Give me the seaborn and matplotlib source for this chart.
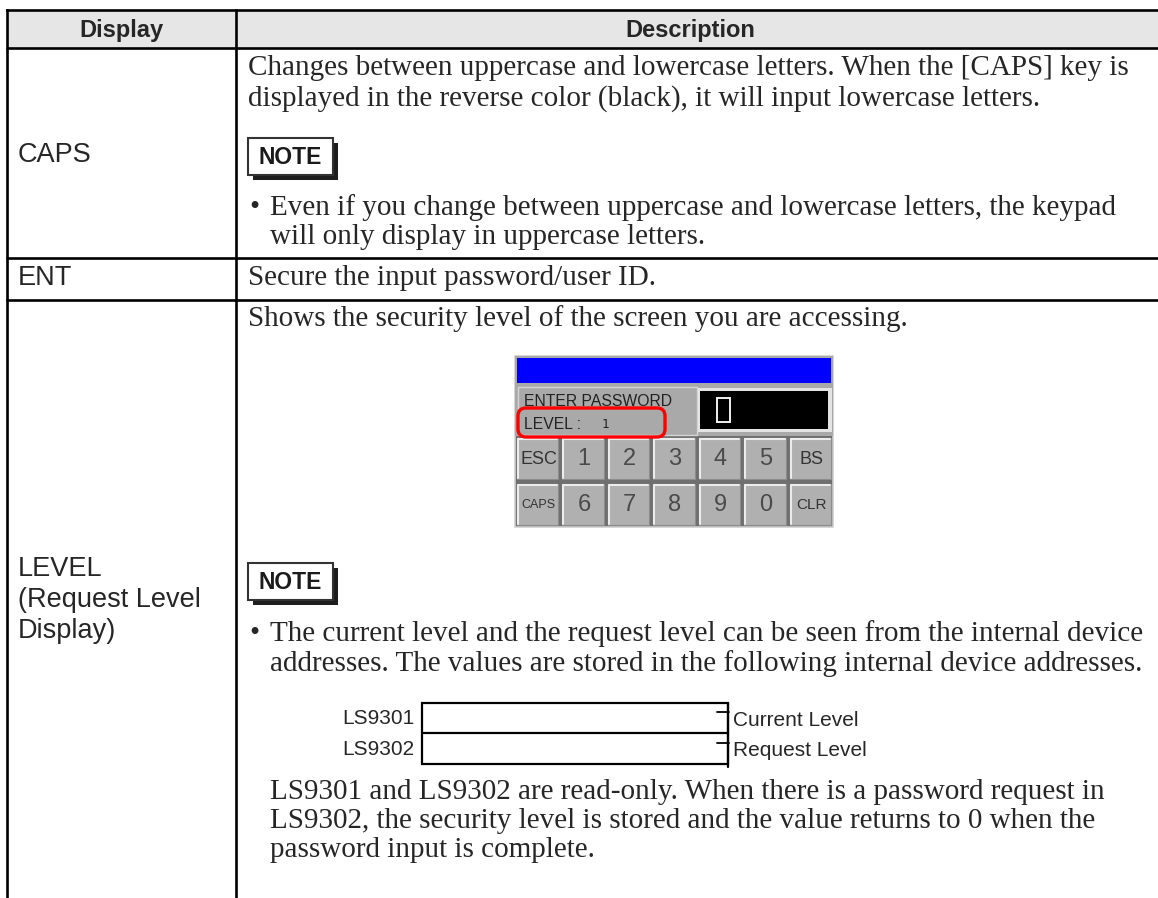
import matplotlib
matplotlib.use("Agg")
import matplotlib.pyplot as plt
from matplotlib.patches import Rectangle, FancyBboxPatch
import seaborn as sns

# ---------------- data (text content) ----------------
header_labels = ["Display", "Description"]
display_labels = ["CAPS", "ENT", ["LEVEL", "(Request Level", "Display)"]]
caps_desc = ["Changes between uppercase and lowercase letters. When the [CAPS] key is",
             "displayed in the reverse color (black), it will input lowercase letters."]
caps_note = ["Even if you change between uppercase and lowercase letters, the keypad",
             "will only display in uppercase letters."]
ent_desc = ["Secure the input password/user ID."]
level_desc = ["Shows the security level of the screen you are accessing."]
level_note = ["The current level and the request level can be seen from the internal device",
              "addresses. The values are stored in the following internal device addresses."]
address_labels = ["LS9301", "LS9302"]
address_meanings = ["Current Level", "Request Level"]
level_para = ["LS9301 and LS9302 are read-only. When there is a password request in",
              "LS9302, the security level is stored and the value returns to 0 when the",
              "password input is complete."]
keypad_title = ["ENTER PASSWORD", "LEVEL :", "1"]
keypad_row1 = ["ESC", "1", "2", "3", "4", "5", "BS"]
keypad_row2 = ["CAPS", "6", "7", "8", "9", "0", "CLR"]
note_label = "NOTE"

# ---------------- style ----------------
sns.set_theme(style="white")
plt.rcParams["font.family"] = ["Liberation Sans", "DejaVu Sans"]

SERIF = ["Liberation Serif", "DejaVu Serif"]
SANS = ["Liberation Sans", "DejaVu Sans"]
BODY = 21.0   # pt
LAB = 19.5
DIAG = 15.0
HEAD_FS = 17.0

W, H = 1158, 898
fig = plt.figure(figsize=(W / 100, H / 100), dpi=100)
ax = fig.add_axes([0, 0, 1, 1])
ax.set_xlim(0, W)
ax.set_ylim(H, 0)
ax.axis("off")

L, C, R = 7, 236, 1165
TOP, HB = 10, 48
ROWS = [HB, 258, 300]
LW = 1.9

# header fill
ax.add_patch(Rectangle((L, TOP), R - L, HB - TOP, facecolor="#e6e6e6", edgecolor="none", zorder=0))
ax.plot([L, R], [TOP, TOP], color="black", lw=LW, solid_capstyle="projecting")
for y in ROWS:
    ax.plot([L, R], [y, y], color="black", lw=LW)
for x in (L, C):
    ax.plot([x, x], [TOP, H + 5], color="black", lw=LW, solid_capstyle="projecting")

ax.text((L + C) / 2, (TOP + HB) / 2 + 1, header_labels[0], ha="center", va="center",
        fontsize=HEAD_FS, fontweight="bold", family=SANS)
ax.text(690, (TOP + HB) / 2 + 1, header_labels[1], ha="center", va="center",
        fontsize=HEAD_FS, fontweight="bold", family=SANS)

# left column labels (baselines)
ax.text(18, 162, display_labels[0], ha="left", va="baseline", fontsize=LAB, family=SANS)
ax.text(18, 285, display_labels[1], ha="left", va="baseline", fontsize=LAB, family=SANS)
for i, t in enumerate(display_labels[2]):
    ax.text(18, 576 + i * 31, t, ha="left", va="baseline", fontsize=LAB, family=SANS)

TX = 248
IND = 270


def lines(x, y0, txts, dy=30):
    for i, t in enumerate(txts):
        ax.text(x, y0 + i * dy, t, ha="left", va="baseline", fontsize=BODY, family=SERIF)


def note_box(x, y):
    w, h = 85, 37
    ax.add_patch(Rectangle((x + 5, y + 5), w, h, facecolor="#1e1e1e", edgecolor="none", zorder=2))
    ax.add_patch(Rectangle((x, y), w, h, facecolor="white", edgecolor="#333333", lw=1.5, zorder=3))
    ax.text(x + w / 2, y + h / 2 + 1, note_label, ha="center", va="center", fontsize=16.5,
            fontweight="bold", family=SANS, zorder=4, color="#1a1a1a")


def bullets(y0, txts, dy=30):
    ax.text(TX + 1, y0, "\u2022", ha="left", va="baseline", fontsize=BODY, family=SERIF)
    lines(IND, y0, txts, dy)


# CAPS row
lines(TX, 75, caps_desc, dy=31)
note_box(TX, 138)
bullets(215, caps_note, dy=29)
# ENT row
lines(TX, 285, ent_desc)
# LEVEL row
lines(TX, 326, level_desc)

# ---------------- keypad ----------------
kx0, kx1 = 515, 833
ky0, ky1 = 356, 527
ax.add_patch(Rectangle((kx0, ky0), kx1 - kx0, ky1 - ky0, facecolor="#6f6f6f",
                       edgecolor="#cfcfcf", lw=1.2, zorder=1))
ax.add_patch(Rectangle((kx0, ky0), kx1 - kx0, 80, facecolor="#a9a9a9",
                       edgecolor="none", zorder=1.2))
ax.add_patch(Rectangle((kx0 + 2, ky0 + 2), kx1 - kx0 - 4, 25, facecolor="#0000ff",
                       edgecolor="none", zorder=2))
# left panel frame
ax.add_patch(Rectangle((518, 387), 179, 48, facecolor="none", edgecolor="#d4d4d4",
                       lw=1.0, zorder=2))
ax.text(524, 406, keypad_title[0], ha="left", va="baseline", fontsize=11.3,
        family=SANS, color="#222222", zorder=3)
ax.text(524, 429, keypad_title[1], ha="left", va="baseline", fontsize=11.3,
        family=SANS, color="#222222", zorder=3)
ax.text(602, 428, keypad_title[2], ha="left", va="baseline", fontsize=9,
        family=["DejaVu Sans Mono"], color="#222222", zorder=3)
ax.add_patch(FancyBboxPatch((518, 408), 147, 29, boxstyle="round,pad=0,rounding_size=8",
                            facecolor="none", edgecolor="#ff0000", lw=2.4, zorder=4))
# display
ax.add_patch(Rectangle((698, 388), 134, 44, facecolor="#e4e4e4", edgecolor="none", zorder=2))
ax.add_patch(Rectangle((700, 391), 128, 38, facecolor="black", edgecolor="none", zorder=2.5))
ax.add_patch(Rectangle((717, 398), 13, 24, facecolor="none", edgecolor="#f0f0f0", lw=1.4,
                       zorder=3))

kw = (kx1 - kx0) / 7.0
for row, ytop in [(keypad_row1, 437), (keypad_row2, 483)]:
    for i, lab in enumerate(row):
        x = kx0 + i * kw
        ax.add_patch(Rectangle((x + 2, ytop + 1), kw - 4, 41, facecolor="#b0b0b0",
                               edgecolor="#8c8c8c", lw=0.8, zorder=2))
        ax.plot([x + 3, x + kw - 3], [ytop + 2, ytop + 2], color="#ececec", lw=1.5, zorder=3)
        ax.plot([x + 3, x + 3], [ytop + 2, ytop + 41], color="#ececec", lw=1.5, zorder=3)
        if len(lab) == 1:
            fs, col = 17, "#4a4a4a"
        elif lab == "CAPS":
            fs, col = 9, "#333333"
        elif lab == "CLR":
            fs, col = 11, "#333333"
        else:
            fs, col = 13, "#333333"
        ax.text(x + kw / 2 + 1, ytop + 22, lab, ha="center", va="center", fontsize=fs,
                family=SANS, color=col, zorder=4)

# NOTE 2
note_box(TX, 563)
bullets(641, level_note)

# address diagram
bx0, bx1 = 422, 728
by = [703, 733, 764]
ax.add_patch(Rectangle((bx0, by[0]), bx1 - bx0, by[2] - by[0], facecolor="none",
                       edgecolor="black", lw=1.6))
ax.plot([bx0, bx1], [by[1], by[1]], color="black", lw=1.6)
for i in range(2):
    yc = (by[i] + by[i + 1]) / 2
    ax.text(bx0 - 8, yc + 1, address_labels[i], ha="right", va="center", fontsize=DIAG,
            family=SANS)
    ax.plot([bx1 - 11, bx1 + 1], [yc - 6, yc - 6], color="black", lw=1.3)
    ax.text(bx1 + 5, yc + 2, address_meanings[i], ha="left", va="center", fontsize=DIAG,
            family=SANS)
ax.plot([bx1, bx1], [by[0], by[2] + 3], color="black", lw=1.6)

lines(IND, 799, level_para, dy=29)

fig.savefig("out.png", dpi=100)
